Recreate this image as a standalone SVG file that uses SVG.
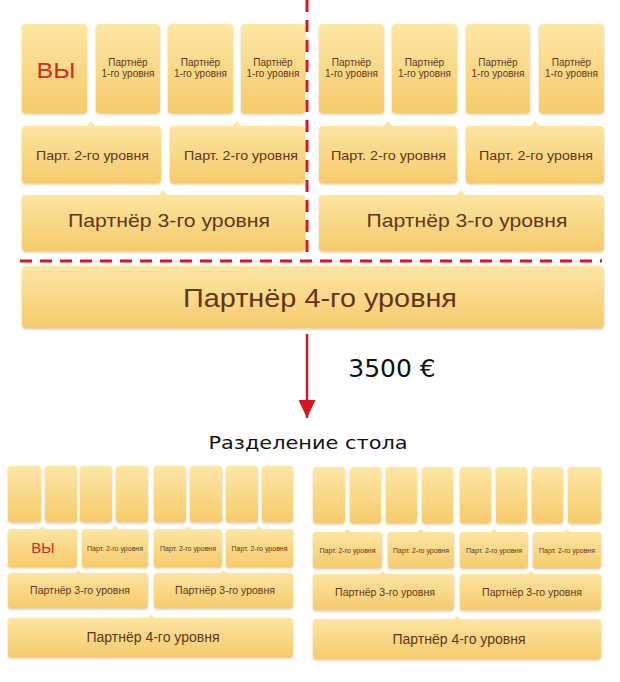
<svg xmlns="http://www.w3.org/2000/svg" width="620" height="682" viewBox="0 0 620 682">
<defs>
<linearGradient id="g" x1="0" y1="0" x2="0" y2="1">
<stop offset="0" stop-color="#fde7a5"/>
<stop offset="1" stop-color="#f6cb6c"/>
</linearGradient>
<filter id="sh" x="-5%" y="-10%" width="110%" height="125%">
<feDropShadow dx="0" dy="1.5" stdDeviation="1.2" flood-color="#b08a40" flood-opacity="0.45"/>
</filter>
<marker id="ah" markerWidth="20" markerHeight="18" refX="18" refY="8.5" orient="auto" markerUnits="userSpaceOnUse" viewBox="0 0 20 18">
<path d="M0,0 L18,8.5 L0,17 Z" fill="#d8141c"/>
</marker>
<style>
.b{fill:url(#g);filter:url(#sh)}
.t{font-family:"Liberation Sans",Arial,sans-serif;fill:#66341a;text-anchor:middle}
.you{font-family:"Liberation Sans",Arial,sans-serif;fill:#d42a2a;text-anchor:middle}
.d{stroke:#e0141e;stroke-width:3;stroke-dasharray:12,8;fill:none}
.v{font-family:"DejaVu Sans",Verdana,sans-serif;fill:#111;text-anchor:middle}
</style>
</defs>
<rect width="620" height="682" fill="#fff"/>

<!-- TOP TABLE -->
<g id="top-you"><rect class="b" x="22" y="24" width="65" height="89" rx="4"/><text class="you" x="56" y="78" font-size="22" textLength="39" lengthAdjust="spacingAndGlyphs">ВЫ</text></g>
<g id="top-p1-1"><rect class="b" x="96" y="24" width="64" height="89" rx="4"/><text class="t" x="128" y="66" font-size="10">Партнёр</text><text class="t" x="128" y="77" font-size="10">1-го уровня</text></g>
<g id="top-p1-2"><rect class="b" x="168" y="24" width="65" height="89" rx="4"/><text class="t" x="200.5" y="66" font-size="10">Партнёр</text><text class="t" x="200.5" y="77" font-size="10">1-го уровня</text></g>
<g id="top-p1-3"><rect class="b" x="241" y="24" width="64" height="89" rx="4"/><text class="t" x="273" y="66" font-size="10">Партнёр</text><text class="t" x="273" y="77" font-size="10">1-го уровня</text></g>
<g id="top-p1-4"><rect class="b" x="319" y="24" width="65" height="89" rx="4"/><text class="t" x="351.5" y="66" font-size="10">Партнёр</text><text class="t" x="351.5" y="77" font-size="10">1-го уровня</text></g>
<g id="top-p1-5"><rect class="b" x="392" y="24" width="65" height="89" rx="4"/><text class="t" x="424.5" y="66" font-size="10">Партнёр</text><text class="t" x="424.5" y="77" font-size="10">1-го уровня</text></g>
<g id="top-p1-6"><rect class="b" x="466" y="24" width="64" height="89" rx="4"/><text class="t" x="498" y="66" font-size="10">Партнёр</text><text class="t" x="498" y="77" font-size="10">1-го уровня</text></g>
<g id="top-p1-7"><rect class="b" x="539" y="24" width="65" height="89" rx="4"/><text class="t" x="571.5" y="66" font-size="10">Партнёр</text><text class="t" x="571.5" y="77" font-size="10">1-го уровня</text></g>

<g id="top-p2-1"><path class="b" d="M26,126 H87 L91,121 L95,126 H157 Q161,126 161,130 V179 Q161,183 157,183 H26 Q22,183 22,179 V130 Q22,126 26,126 Z"/><text class="t" x="92.5" y="160" font-size="13.5" textLength="113" lengthAdjust="spacingAndGlyphs">Парт. 2-го уровня</text></g>
<g id="top-p2-2"><path class="b" d="M174,126 H233 L237,121 L241,126 H301 Q305,126 305,130 V179 Q305,183 301,183 H174 Q170,183 170,179 V130 Q170,126 174,126 Z"/><text class="t" x="241" y="160" font-size="13.5" textLength="114" lengthAdjust="spacingAndGlyphs">Парт. 2-го уровня</text></g>
<g id="top-p2-3"><path class="b" d="M323,126 H384 L388,121 L392,126 H453 Q457,126 457,130 V179 Q457,183 453,183 H323 Q319,183 319,179 V130 Q319,126 323,126 Z"/><text class="t" x="388.5" y="160" font-size="13.5" textLength="115" lengthAdjust="spacingAndGlyphs">Парт. 2-го уровня</text></g>
<g id="top-p2-4"><path class="b" d="M470,126 H531 L535,121 L539,126 H600 Q604,126 604,130 V179 Q604,183 600,183 H470 Q466,183 466,179 V130 Q466,126 470,126 Z"/><text class="t" x="536" y="160" font-size="13.5" textLength="114" lengthAdjust="spacingAndGlyphs">Парт. 2-го уровня</text></g>

<g id="top-p3-1"><path class="b" d="M26,195 H159 L163,190 L167,195 H301 Q305,195 305,199 V247 Q305,251 301,251 H26 Q22,251 22,247 V199 Q22,195 26,195 Z"/><text class="t" x="169" y="227" font-size="19" textLength="202" lengthAdjust="spacingAndGlyphs">Партнёр 3-го уровня</text></g>
<g id="top-p3-2"><path class="b" d="M323,195 H457 L461,190 L465,195 H600 Q604,195 604,199 V247 Q604,251 600,251 H323 Q319,251 319,247 V199 Q319,195 323,195 Z"/><text class="t" x="467" y="227" font-size="19" textLength="201" lengthAdjust="spacingAndGlyphs">Партнёр 3-го уровня</text></g>

<g id="top-p4"><rect class="b" x="22" y="266" width="582" height="62" rx="4"/><text class="t" x="320" y="307" font-size="25" textLength="274" lengthAdjust="spacingAndGlyphs">Партнёр 4-го уровня</text></g>

<!-- CONNECTORS -->
<g id="connectors">
<line class="d" x1="307" y1="0" x2="307" y2="262"/>
<line class="d" x1="20" y1="261" x2="602" y2="261"/>
<line x1="307" y1="334" x2="307" y2="418" stroke="#d8141c" stroke-width="2.5" marker-end="url(#ah)"/>
</g>
<text class="v" x="392" y="377" font-size="25">3500 €</text>
<text class="v" x="308" y="449" font-size="18" textLength="199" lengthAdjust="spacingAndGlyphs">Разделение стола</text>

<!-- BOTTOM LEFT TABLE -->
<g id="bl-c1"><rect class="b" x="8" y="466" width="33" height="56" rx="3"/></g>
<g id="bl-c2"><rect class="b" x="45" y="466" width="32" height="56" rx="3"/></g>
<g id="bl-c3"><rect class="b" x="80" y="466" width="32" height="56" rx="3"/></g>
<g id="bl-c4"><rect class="b" x="116" y="466" width="32" height="56" rx="3"/></g>
<g id="bl-c5"><rect class="b" x="154" y="466" width="32" height="56" rx="3"/></g>
<g id="bl-c6"><rect class="b" x="190" y="466" width="32" height="56" rx="3"/></g>
<g id="bl-c7"><rect class="b" x="226" y="466" width="32" height="56" rx="3"/></g>
<g id="bl-c8"><rect class="b" x="262" y="466" width="31" height="56" rx="3"/></g>

<g id="bl-you"><path class="b" d="M11,529 H39 L42,526 L45,529 H74 Q77,529 77,532 V564 Q77,567 74,567 H11 Q8,567 8,564 V532 Q8,529 11,529 Z"/><text class="you" x="43" y="553" font-size="15">ВЫ</text></g>
<g id="bl-p2-1"><path class="b" d="M85,529 H112 L115,526 L118,529 H145 Q148,529 148,532 V564 Q148,567 145,567 H85 Q82,567 82,564 V532 Q82,529 85,529 Z"/><text class="t" x="115" y="551" font-size="7">Парт. 2-го уровня</text></g>
<g id="bl-p2-2"><path class="b" d="M157,529 H185 L188,526 L191,529 H219 Q222,529 222,532 V564 Q222,567 219,567 H157 Q154,567 154,564 V532 Q154,529 157,529 Z"/><text class="t" x="188" y="551" font-size="7">Парт. 2-го уровня</text></g>
<g id="bl-p2-3"><path class="b" d="M229,529 H256 L259,526 L262,529 H290 Q293,529 293,532 V564 Q293,567 290,567 H229 Q226,567 226,564 V532 Q226,529 229,529 Z"/><text class="t" x="259.5" y="551" font-size="7">Парт. 2-го уровня</text></g>

<g id="bl-p3-1"><path class="b" d="M11,573 H75 L78,570 L81,573 H145 Q148,573 148,576 V605 Q148,608 145,608 H11 Q8,608 8,605 V576 Q8,573 11,573 Z"/><text class="t" x="80" y="594" font-size="10.5">Партнёр 3-го уровня</text></g>
<g id="bl-p3-2"><path class="b" d="M157,573 H220 L223,570 L226,573 H290 Q293,573 293,576 V605 Q293,608 290,608 H157 Q154,608 154,605 V576 Q154,573 157,573 Z"/><text class="t" x="225" y="594" font-size="10.5">Партнёр 3-го уровня</text></g>

<g id="bl-p4"><path class="b" d="M11,618 H148 L151,615 L154,618 H290 Q293,618 293,621 V654 Q293,657 290,657 H11 Q8,657 8,654 V621 Q8,618 11,618 Z"/><text class="t" x="153" y="642" font-size="14">Партнёр 4-го уровня</text></g>

<!-- BOTTOM RIGHT TABLE -->
<g id="br-c1"><rect class="b" x="313" y="467" width="32" height="56" rx="3"/></g>
<g id="br-c2"><rect class="b" x="350" y="467" width="31" height="56" rx="3"/></g>
<g id="br-c3"><rect class="b" x="386" y="467" width="31" height="56" rx="3"/></g>
<g id="br-c4"><rect class="b" x="422" y="467" width="31" height="56" rx="3"/></g>
<g id="br-c5"><rect class="b" x="460" y="467" width="31" height="56" rx="3"/></g>
<g id="br-c6"><rect class="b" x="496" y="467" width="31" height="56" rx="3"/></g>
<g id="br-c7"><rect class="b" x="532" y="467" width="31" height="56" rx="3"/></g>
<g id="br-c8"><rect class="b" x="568" y="467" width="33" height="56" rx="3"/></g>

<g id="br-p2-1"><path class="b" d="M316,532 H344 L347,529 L350,532 H379 Q382,532 382,535 V565 Q382,568 379,568 H316 Q313,568 313,565 V535 Q313,532 316,532 Z"/><text class="t" x="347.5" y="553" font-size="7">Парт. 2-го уровня</text></g>
<g id="br-p2-2"><path class="b" d="M391,532 H418 L421,529 L424,532 H451 Q454,532 454,535 V565 Q454,568 451,568 H391 Q388,568 388,565 V535 Q388,532 391,532 Z"/><text class="t" x="421" y="553" font-size="7">Парт. 2-го уровня</text></g>
<g id="br-p2-3"><path class="b" d="M463,532 H491 L494,529 L497,532 H525 Q528,532 528,535 V565 Q528,568 525,568 H463 Q460,568 460,565 V535 Q460,532 463,532 Z"/><text class="t" x="494" y="553" font-size="7">Парт. 2-го уровня</text></g>
<g id="br-p2-4"><path class="b" d="M536,532 H564 L567,529 L570,532 H598 Q601,532 601,535 V565 Q601,568 598,568 H536 Q533,568 533,565 V535 Q533,532 536,532 Z"/><text class="t" x="567" y="553" font-size="7">Парт. 2-го уровня</text></g>

<g id="br-p3-1"><path class="b" d="M316,574 H380 L383,571 L386,574 H451 Q454,574 454,577 V607 Q454,610 451,610 H316 Q313,610 313,607 V577 Q313,574 316,574 Z"/><text class="t" x="385" y="596" font-size="10.5">Партнёр 3-го уровня</text></g>
<g id="br-p3-2"><path class="b" d="M463,574 H528 L531,571 L534,574 H598 Q601,574 601,577 V607 Q601,610 598,610 H463 Q460,610 460,607 V577 Q460,574 463,574 Z"/><text class="t" x="532" y="596" font-size="10.5">Партнёр 3-го уровня</text></g>

<g id="br-p4"><path class="b" d="M316,619 H454 L457,616 L460,619 H598 Q601,619 601,622 V656 Q601,659 598,659 H316 Q313,659 313,656 V622 Q313,619 316,619 Z"/><text class="t" x="459" y="644" font-size="14">Партнёр 4-го уровня</text></g>
</svg>
